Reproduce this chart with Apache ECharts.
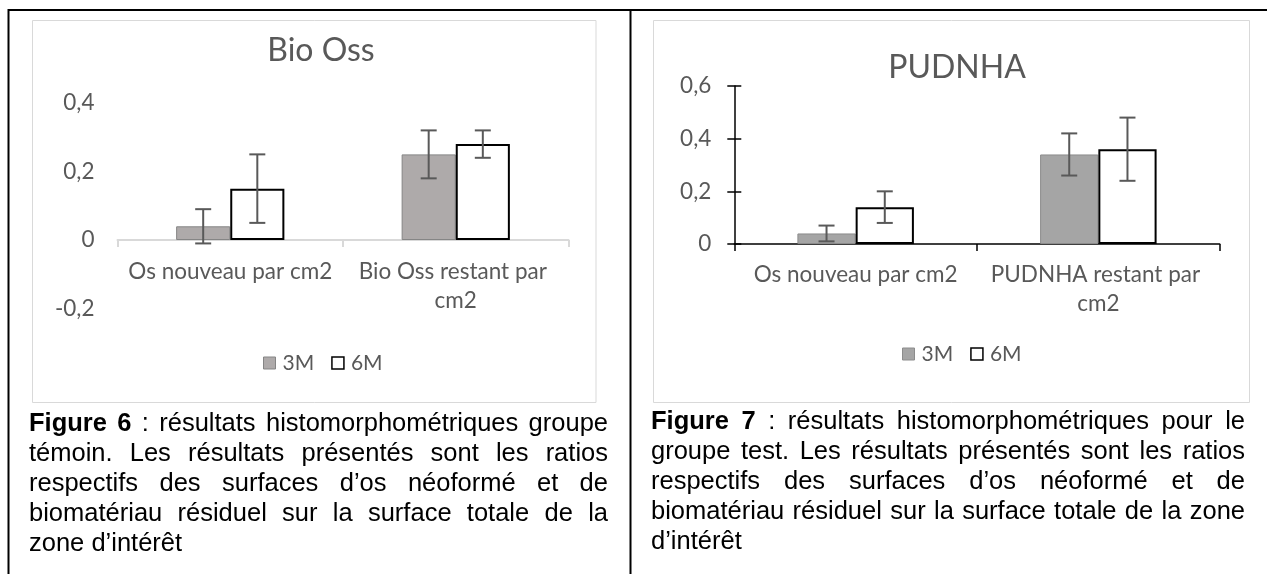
<!DOCTYPE html>
<html><head><meta charset="utf-8">
<script src="https://cdn.jsdelivr.net/npm/echarts@6/dist/echarts.min.js"></script>
<style>
html,body{margin:0;padding:0;background:#fff;}
#wrap{position:relative;width:1267px;height:574px;overflow:hidden;background:#fff;}
#chart{position:absolute;left:0;top:0;width:1267px;height:574px;}
.cap{position:absolute;font-family:"Liberation Sans",Arial,sans-serif;font-size:25.5px;line-height:30px;text-align:justify;color:#000;}
</style></head><body>
<div id="wrap"><div id="chart"></div>
<div class="cap" id="cap1" style="left:29px;top:407px;width:579px;"></div>
<div class="cap" id="cap2" style="left:651px;top:405px;width:594px;"></div>
</div>
<script>
// ---- data ----
const seriesNames = ['3M', '6M'];

const leftTitle = 'Bio Oss';
const leftCategories = ['Os nouveau par cm2', 'Bio Oss restant par cm2'];
const left3M = [0.04, 0.25];
const left3MErr = [0.05, 0.07];
const left6M = [0.15, 0.28];
const left6MErr = [0.10, 0.04];
const leftAxis = { min: -0.2, max: 0.4, interval: 0.2 };

const rightTitle = 'PUDNHA';
const rightCategories = ['Os nouveau par cm2', 'PUDNHA restant par cm2'];
const right3M = [0.04, 0.34];
const right3MErr = [0.03, 0.08];
const right6M = [0.14, 0.36];
const right6MErr = [0.06, 0.12];
const rightAxis = { min: 0, max: 0.6, interval: 0.2 };

const caption1Bold = 'Figure 6';
const caption1Text = ' : résultats histomorphométriques groupe témoin. Les résultats présentés sont les ratios respectifs des surfaces d’os néoformé et de biomatériau résiduel sur la surface totale de la zone d’intérêt';
const caption2Bold = 'Figure 7';
const caption2Text = ' : résultats histomorphométriques pour le groupe test. Les résultats présentés sont les ratios respectifs des surfaces d’os néoformé et de biomatériau résiduel sur la surface totale de la zone d’intérêt';

// ---- captions ----
function setCap(id, b, t) {
  const el = document.getElementById(id);
  const s = document.createElement('b'); s.textContent = b;
  el.appendChild(s); el.appendChild(document.createTextNode(t));
}
setCap('cap1', caption1Bold, caption1Text);
setCap('cap2', caption2Bold, caption2Text);

// ---- chart ----
const FONT = 'Lato';
const TXT = '#595959';
const BAR_FRAC = 0.24;
const fmt = v => (Math.abs(v) < 1e-9 ? '0' : (+v.toFixed(2)).toString().replace('.', ','));

function errSeries(vals, errs, side, xi, yi) {
  return {
    type: 'custom', xAxisIndex: xi, yAxisIndex: yi, z: 5, silent: true,
    data: vals.map((v, i) => [i, v, errs[i]]),
    encode: { x: 0, y: 1 },
    renderItem: (params, api) => {
      const i = api.value(0), v = api.value(1), e = api.value(2);
      const band = api.size([1, 0])[0];
      const cx = api.coord([i, v])[0] + side * band * BAR_FRAC / 2;
      const yt = api.coord([i, v + e])[1], yb = api.coord([i, v - e])[1];
      const cap = 8;
      const style = { stroke: '#595959', lineWidth: 2, fill: null };
      return { type: 'group', children: [
        { type: 'line', shape: { x1: cx, y1: yt, x2: cx, y2: yb }, style },
        { type: 'line', shape: { x1: cx - cap, y1: yt, x2: cx + cap, y2: yt }, style },
        { type: 'line', shape: { x1: cx - cap, y1: yb, x2: cx + cap, y2: yb }, style }
      ]};
    }
  };
}

const labelStyle = { color: TXT, fontFamily: FONT, fontSize: 22.5 };
const s3MLeft = { color: '#AEAAAA', borderColor: '#858585', borderWidth: 1 };
const s3MRight = { color: '#A5A5A5', borderColor: '#8C8C8C', borderWidth: 1 };
const s6M = { color: '#FFFFFF', borderColor: '#000000', borderWidth: 2 };

// left grid geometry: value 0 sits above the grid bottom
const LG = { left: 117.5, top: 103, width: 451, height: 205.5 };
const leftZeroOffset = LG.height * (0 - leftAxis.min) / (leftAxis.max - leftAxis.min);

const legendText = { color: TXT, fontFamily: FONT, fontSize: 21, lineHeight: 24, padding: [0, 0, 0, 2] };

const chart = echarts.init(document.getElementById('chart'), null, { renderer: 'canvas' });
chart.setOption({
  backgroundColor: '#fff',
  animation: false,
  title: [
    { text: leftTitle, left: 316, top: 30, textAlign: 'center',
      textStyle: { color: TXT, fontFamily: FONT, fontSize: 32, fontWeight: 'normal', lineHeight: 32 } },
    { text: rightTitle, left: 952, top: 47, textAlign: 'center',
      textStyle: { color: TXT, fontFamily: FONT, fontSize: 32, fontWeight: 'normal', lineHeight: 32 } }
  ],
  legend: [
    { left: 258, top: 346, icon: 'rect', itemWidth: 12, itemHeight: 12, itemGap: 17, selectedMode: false,
      textStyle: legendText,
      data: [{ name: seriesNames[0], itemStyle: s3MLeft }, { name: seriesNames[1], itemStyle: { color: '#fff', borderColor: '#000', borderWidth: 1.5 } }] },
    { left: 897, top: 337, icon: 'rect', itemWidth: 12, itemHeight: 12, itemGap: 17, selectedMode: false,
      textStyle: legendText,
      data: [{ name: seriesNames[0], itemStyle: s3MRight }, { name: seriesNames[1], itemStyle: { color: '#fff', borderColor: '#000', borderWidth: 1.5 } }] }
  ],
  grid: [
    Object.assign({ outerBoundsMode: 'none' }, LG),
    { left: 734.3, top: 86, width: 485.4, height: 158, outerBoundsMode: 'none' }
  ],
  xAxis: [
    { type: 'category', gridIndex: 0, data: leftCategories, position: 'bottom', offset: -leftZeroOffset,
      axisLine: { onZero: false, lineStyle: { color: '#D9D9D9', width: 2 } },
      axisTick: { show: true, length: 7, lineStyle: { color: '#D9D9D9', width: 2 } },
      axisLabel: Object.assign({ margin: 17, interval: 0, width: 210, overflow: 'break', lineHeight: 29 }, labelStyle),
      splitLine: { show: false } },
    { type: 'category', gridIndex: 1, data: rightCategories,
      axisLine: { onZero: false, lineStyle: { color: '#000', width: 1.5 } },
      axisTick: { show: true, length: 7, lineStyle: { color: '#000', width: 1.5 } },
      axisLabel: Object.assign({ margin: 16, interval: 0, width: 225, overflow: 'break', lineHeight: 29 }, labelStyle),
      splitLine: { show: false } }
  ],
  yAxis: [
    { type: 'value', gridIndex: 0, position: 'left', min: leftAxis.min, max: leftAxis.max, interval: leftAxis.interval,
      axisLine: { show: false }, axisTick: { show: false }, splitLine: { show: false },
      axisLabel: Object.assign({ margin: 23, formatter: fmt }, labelStyle) },
    { type: 'value', gridIndex: 1, position: 'left', min: rightAxis.min, max: rightAxis.max, interval: rightAxis.interval,
      axisLine: { show: true, lineStyle: { color: '#000', width: 1.5 } },
      axisTick: { show: true, length: 7, lineStyle: { color: '#000', width: 1.5 } },
      splitLine: { show: false },
      axisLabel: Object.assign({ margin: 23, formatter: fmt }, labelStyle) },
    { type: 'value', gridIndex: 1, position: 'left', offset: 0, min: rightAxis.min, max: rightAxis.max, interval: rightAxis.interval,
      axisLine: { show: false },
      axisTick: { show: true, inside: true, length: 7, lineStyle: { color: '#000', width: 1.5 } },
      splitLine: { show: false }, axisLabel: { show: false } }
  ],
  series: [
    { name: seriesNames[0], type: 'bar', xAxisIndex: 0, yAxisIndex: 0, data: left3M, barWidth: '24%', barGap: '0%', itemStyle: s3MLeft, silent: true },
    { name: seriesNames[1], type: 'bar', xAxisIndex: 0, yAxisIndex: 0, data: left6M, barWidth: '24%', barGap: '0%', itemStyle: s6M, silent: true },
    { name: seriesNames[0], type: 'bar', xAxisIndex: 1, yAxisIndex: 1, data: right3M, barWidth: '24%', barGap: '0%', itemStyle: s3MRight, silent: true },
    { name: seriesNames[1], type: 'bar', xAxisIndex: 1, yAxisIndex: 1, data: right6M, barWidth: '24%', barGap: '0%', itemStyle: s6M, silent: true },
    errSeries(left3M, left3MErr, -1, 0, 0),
    errSeries(left6M, left6MErr, 1, 0, 0),
    errSeries(right3M, right3MErr, -1, 1, 1),
    errSeries(right6M, right6MErr, 1, 1, 1)
  ],
  graphic: [
    { type: 'rect', z: -1, shape: { x: 32.5, y: 20.5, width: 563.5, height: 382 }, style: { fill: null, stroke: '#D9D9D9', lineWidth: 1 }, silent: true },
    { type: 'rect', z: -1, shape: { x: 653.5, y: 20.5, width: 596, height: 382 }, style: { fill: null, stroke: '#D9D9D9', lineWidth: 1 }, silent: true },
    { type: 'line', shape: { x1: 8, y1: 10, x2: 1267, y2: 10 }, style: { stroke: '#000', lineWidth: 2 }, silent: true },
    { type: 'line', shape: { x1: 8.5, y1: 9, x2: 8.5, y2: 574 }, style: { stroke: '#000', lineWidth: 2 }, silent: true },
    { type: 'line', shape: { x1: 630.5, y1: 9, x2: 630.5, y2: 574 }, style: { stroke: '#000', lineWidth: 2 }, silent: true }
  ]
});
</script>
</body></html>
